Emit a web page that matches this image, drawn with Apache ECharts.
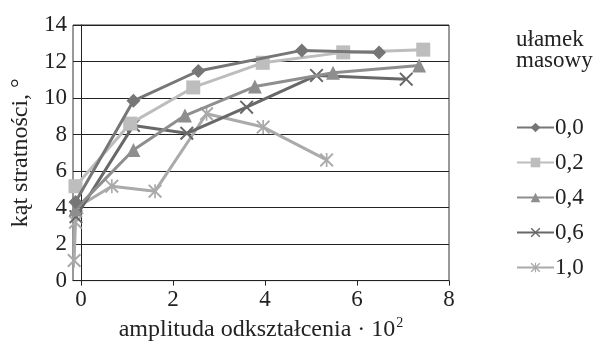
<!DOCTYPE html>
<html><head><meta charset="utf-8">
<script src="https://cdn.jsdelivr.net/npm/echarts@6/dist/echarts.min.js"></script>
<style>html,body{margin:0;padding:0;background:#fff}#c{width:599px;height:347px}</style>
</head><body><div id="c"></div>
<script>
const seriesNames = ['0,0', '0,2', '0,4', '0,6', '1,0'];
const s00 = [[-0.12, 4.3], [1.14, 9.85], [2.55, 11.48], [4.80, 12.61], [6.48, 12.5]];
const s02 = [[-0.12, 5.17], [1.07, 8.6], [2.44, 10.58], [3.95, 11.93], [5.70, 12.5], [7.44, 12.65]];
const s04 = [[-0.12, 3.9], [1.14, 7.15], [2.26, 9.04], [3.78, 10.63], [5.48, 11.39], [7.35, 11.78]];
const s06 = [[-0.11, 3.5], [1.14, 8.5], [2.30, 8.07], [3.60, 9.5], [5.12, 11.24], [7.07, 11.03]];
const s10 = [[-0.15, 1.1], [-0.12, 3.2], [-0.09, 4.0], [0.67, 5.17], [1.61, 4.9], [2.73, 9.14], [3.96, 8.41], [5.34, 6.61]];
const xTicks = [0, 2, 4, 6, 8];
const yTicks = [0, 2, 4, 6, 8, 10, 12, 14];

const FONT = '"Liberation Serif", "DejaVu Serif", serif';
const X_PATH = 'path://M0,1L1,0L5,4L9,0L10,1L6,5L10,9L9,10L5,6L1,10L0,9L4,5Z';
const AST_PATH = 'path://M0,1L1,0L5,4L9,0L10,1L6,5L10,9L9,10L5,6L1,10L0,9L4,5ZM4.4,0L5.6,0L5.6,10L4.4,10Z';

const dataSets = [s00, s02, s04, s06, s10];
const colors = ['#767676', '#bdbdbd', '#8e8e8e', '#686868', '#aaaaaa'];
const symbols = ['diamond', 'rect', 'triangle', X_PATH, AST_PATH];
const sizes = [14, 14, 14, 14, 14];

const chart = echarts.init(document.getElementById('c'), null, {renderer: 'canvas'});
chart.setOption({
  animation: false,
  backgroundColor: '#fff',
  textStyle: {fontFamily: FONT},
  title: {
    text: 'ułamek\nmasowy',
    left: 511, top: 24,
    textStyle: {fontFamily: FONT, fontSize: 23, fontWeight: 'normal', color: '#222', lineHeight: 21}
  },
  legend: {
    orient: 'vertical',
    left: 511, top: 111,
    itemWidth: 37, itemHeight: 12, itemGap: 12,
    data: seriesNames,
    textStyle: {fontFamily: FONT, fontSize: 23, color: '#222', lineHeight: 23, padding: [0, 0, 0, -4]}
  },
  grid: {left: 73, top: 25, right: 150, bottom: 63, show: true, borderColor: '#333', borderWidth: 1, backgroundColor: 'transparent'},
  xAxis: {
    type: 'value', min: -0.174, max: 8,
    name: 'amplituda odkształcenia · 10{sup|2}',
    nameLocation: 'middle', nameGap: 33,
    nameTextStyle: {fontFamily: FONT, fontSize: 24, color: '#222',
      rich: {sup: {fontFamily: FONT, fontSize: 14, color: '#222', verticalAlign: 'top', padding: [0, 0, 13, 1]}}},
    axisLine: {show: true, onZero: false, lineStyle: {color: '#222', width: 1}},
    axisTick: {show: true, inside: false, length: 5, customValues: xTicks, lineStyle: {color: '#222'}},
    axisLabel: {customValues: xTicks, fontFamily: FONT, fontSize: 23, color: '#222', margin: 8},
    splitLine: {show: false}
  },
  yAxis: {
    type: 'value', min: 0, max: 14, interval: 2,
    name: 'kąt stratności, °',
    nameLocation: 'middle', nameGap: 40,
    nameTextStyle: {fontFamily: FONT, fontSize: 24, color: '#222'},
    axisLine: {show: true, lineStyle: {color: '#222', width: 1}},
    axisTick: {show: false},
    axisLabel: {customValues: yTicks, fontFamily: FONT, fontSize: 23, color: '#222', margin: 6},
    splitLine: {show: true, lineStyle: {color: '#222', width: 1}}
  },
  series: dataSets.map((d, i) => ({
    name: seriesNames[i],
    type: 'line',
    data: d,
    clip: false,
    symbol: symbols[i],
    symbolSize: sizes[i],
    color: colors[i],
    lineStyle: {color: colors[i], width: 3},
    itemStyle: {color: colors[i]},
    z: 10 - i
  }))
});
</script></body></html>
